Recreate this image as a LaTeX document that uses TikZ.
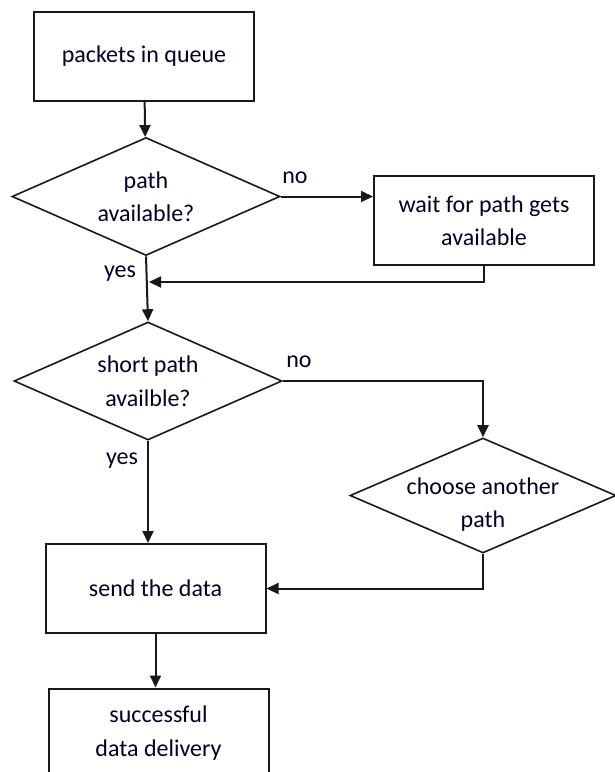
\documentclass[tikz,border=0pt]{standalone}
\usepackage{fontspec}
\setmainfont{Carlito}
\usetikzlibrary{shapes.geometric,arrows.meta}
\colorlet{flowline}{black!90}
\colorlet{flowtext}{black!85!blue}

\begin{document}
\begin{tikzpicture}[x=0.5pt,y=-0.5pt,
    every node/.style={font=\fontsize{12}{16.75}\selectfont, text=flowtext, align=center},
    stepbox/.style={draw=flowline, line width=1pt, rectangle, minimum width=110pt, minimum height=44.5pt, inner sep=0pt},
    decide/.style={draw=flowline, line width=0.8pt, diamond, minimum width=134pt, minimum height=59pt, inner sep=0pt},
    flow/.style={draw=flowline, line width=1pt, -{Triangle[length=6pt,width=5.5pt]}}]
    \useasboundingbox (0,0) rectangle (615,772);
    % process boxes
    \foreach \n/\x/\y/\t in {queue/144/56/{packets in queue},
                             wait/484/220.5/{wait for path gets\\available},
                             send/155.5/588.5/{send the data},
                             done/158.5/733/{successful\\data delivery}}{
        \node[stepbox] (\n) at (\x,\y) {\t};
    }
    % decisions
    \node[decide, label={center:{path\\available?}}] (avail) at (146,196.5) {};
    \node[decide, label={center:{short path\\availble?}}] (short) at (148,381) {};
    \node[decide, minimum width=133pt, minimum height=57.5pt,
          label={[yshift=-4.5pt]center:{choose another\\path}}] (other) at (483,495.5) {};
    % branch labels
    \node (no1) at (295,178) {no};
    \node (yes1) at (120,274) {yes};
    \node (no2) at (299,362) {no};
    \node (yes2) at (122,461) {yes};
    \coordinate (merge) at (149,282);
    % connectors
    \draw[flow] (queue) -- (avail);
    \draw[flow] (avail.east) -- (avail.east -| wait.west);
    \draw[flow] (wait.south) |- (merge);
    \draw[flow] (avail.south) -- (short.north);
    \draw[flow] (short.east) -| (other.north);
    \draw[flow] (short.south) -- (short.south |- send.north);
    \draw[flow] (other.south) |- (send.east);
    \draw[flow] (send.south) -- (send.south |- done.north);
\end{tikzpicture}
\end{document}
